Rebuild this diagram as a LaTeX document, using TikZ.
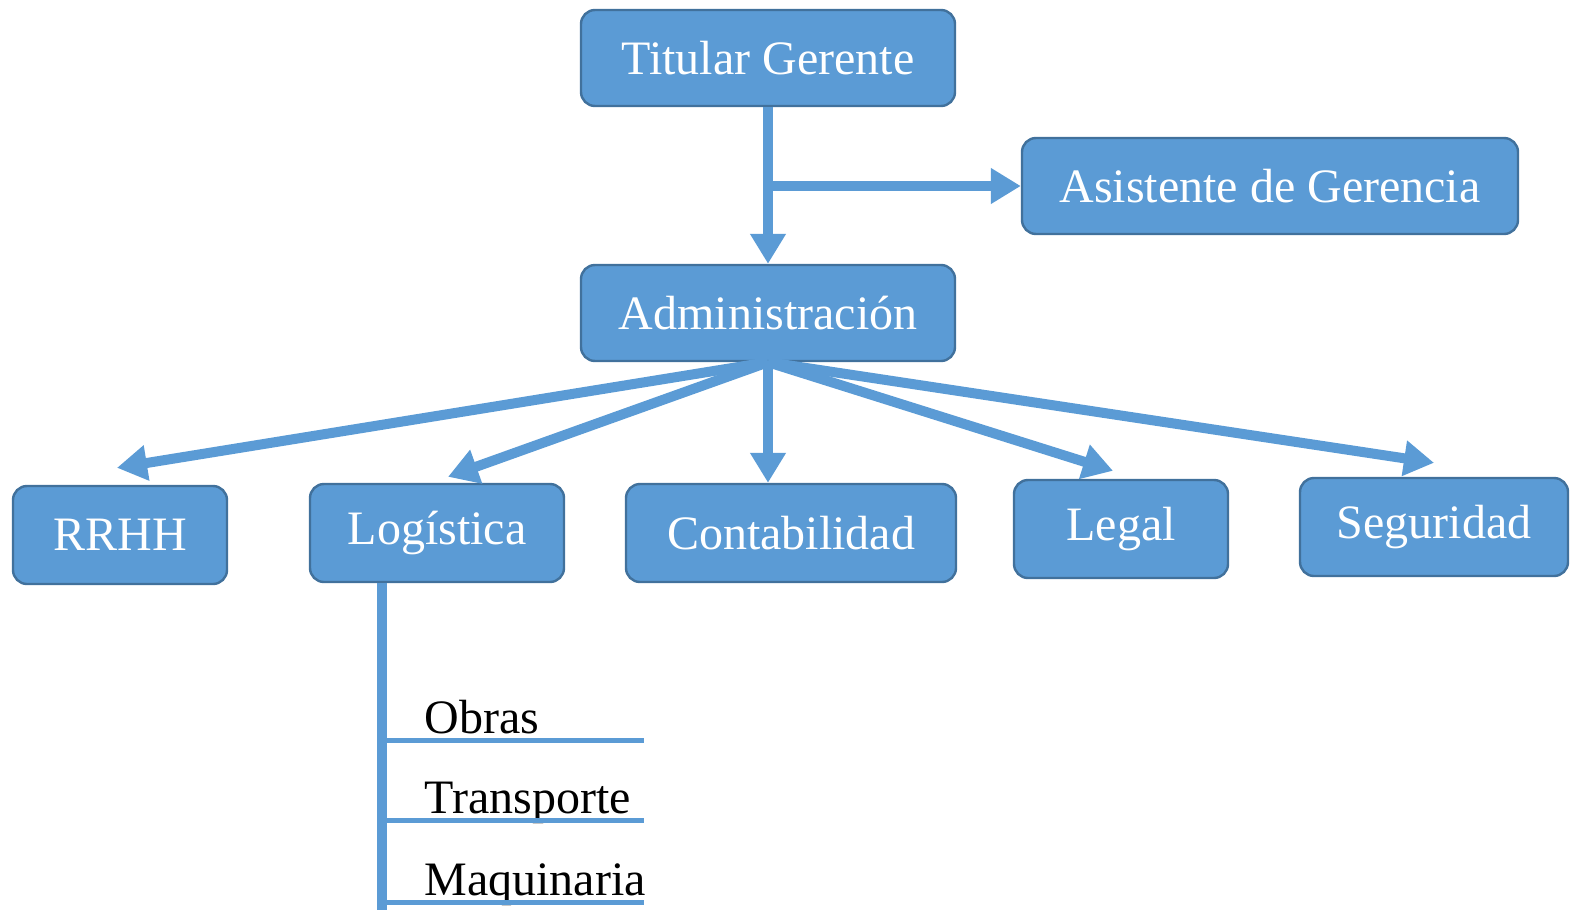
\documentclass[tikz,border=0pt]{standalone}
\usepackage{fontspec}
\setmainfont{Liberation Serif}
\usetikzlibrary{arrows.meta,calc}
\definecolor{boxblue}{HTML}{5B9BD5}
\definecolor{boxedge}{HTML}{41719C}
\begin{document}
\begin{tikzpicture}[x=0.5pt, y=-0.5pt, >={Triangle[width=17pt,length=15pt]},
  area/.style={draw=boxedge, line width=1.2pt, fill=boxblue, rounded corners=7pt,
    text=white, font=\fontsize{24}{28}\selectfont, inner sep=0pt},
  link/.style={boxblue, line width=5pt},
  sub/.style={font=\fontsize{24}{28}\selectfont, anchor=base west, inner sep=0pt}]
  \useasboundingbox (0, 0) rectangle (1572, 910);
  % top levels
  \node[area, minimum width=187pt, minimum height=48pt] (titular) at (768, 58) {Titular Gerente};
  \node[area, minimum width=248pt, minimum height=48pt] (asistente) at (1270, 186) {Asistente de Gerencia};
  \node[area, minimum width=187pt, minimum height=48pt] (admin) at (768, 313) {Administración};
  % departments
  \node[area, minimum width=107pt, minimum height=49pt] (rrhh) at (120, 535) {RRHH};
  \node[area, minimum width=127pt, minimum height=49pt] (logistica) at (437, 533) {Logística};
  \node[area, minimum width=165pt, minimum height=49pt] (contab) at (791, 533) {Contabilidad};
  \node[area, minimum width=107pt, minimum height=49pt] (legal) at (1121, 529) {Legal};
  \node[area, minimum width=134pt, minimum height=49pt] (seguridad) at (1434, 527) {Seguridad};
  \draw[link, ->] (titular.south) -- (admin.north);
  \coordinate (fork) at (titular.south |- asistente.west);
  \draw[link, ->] (fork) -- (asistente.west);
  \draw[link, ->] (admin.south) -- ($(rrhh.north) + (-3, -17)$);
  \draw[link, ->] (admin.south) -- ($(logistica.north) + (11, -6)$);
  \draw[link, ->] (admin.south) -- (admin.south |- contab.north);
  \draw[link, ->] (admin.south) -- ($(legal.north) + (-8, -8)$);
  \draw[link, ->] (admin.south) -- ($(seguridad.north) + (0, -14)$);
  % logistica areas
  \coordinate (down) at (382, 910);
  \draw[link] (logistica.south -| down) -- (down);
  \foreach \y/\name/\txt in {740/obras/Obras, 820/transporte/Transporte, 902/maquinaria/Maquinaria} {
    \node[sub] (\name) at (424, \y - 7) {\txt};
    \draw[boxblue, line width=2.5pt] (382, \y) -- (644, \y);
  }
\end{tikzpicture}
\end{document}
